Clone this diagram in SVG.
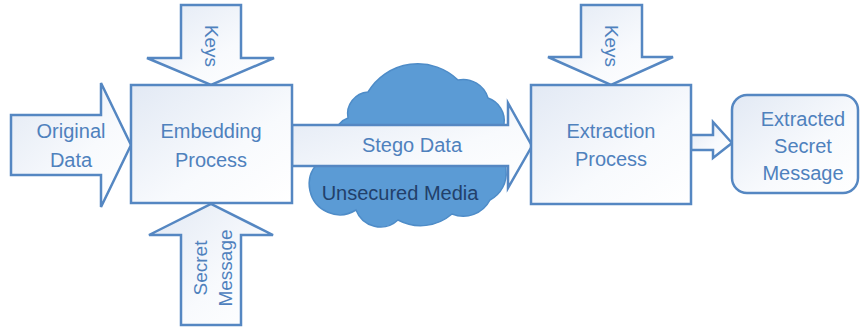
<svg xmlns="http://www.w3.org/2000/svg" width="861" height="329" viewBox="0 0 861 329">
<defs>
<linearGradient id="g" x1="0" y1="0" x2="1" y2="1">
<stop offset="0" stop-color="#E2E9F4"/>
<stop offset="0.6" stop-color="#F8FAFD"/>
<stop offset="1" stop-color="#FFFFFF"/>
</linearGradient>
<style>
.shape{fill:url(#g);stroke:#5587C2;stroke-width:2.5;stroke-linejoin:miter}
.t{font-family:"Liberation Sans",Arial,sans-serif;font-size:20px;fill:#4F81BD;text-anchor:middle}
.v{font-size:19px}
.dark{fill:#22406A}
.cloud{fill:#5B9BD5;stroke:#4E8CC8;stroke-width:1.5}
</style>
</defs>
<rect width="861" height="329" fill="#FFFFFF"/>
<g id="cloud">
<path class="cloud" d="M344,154 A20,20 0 0 1 348,118 A22,22 0 0 1 368,92 A58,58 0 0 1 458,80 A26,26 0 0 1 488,98 A24,24 0 0 1 504,124 L506,170 A30,30 0 0 1 490,200 A30,30 0 0 1 452,214 A48,48 0 0 1 398,220 A26,26 0 0 1 356,210 A30.5,30.5 0 1 1 344,154 Z"/>
</g>
<g id="connectors">
<g id="arrow-original-data">
<path class="shape" d="M11,115 L101,115 L101,83 L131,145 L101,207 L101,175 L11,175 Z"/>
<text class="t" x="71" y="138">Original</text>
<text class="t" x="71" y="167">Data</text>
</g>
<g id="arrow-keys-1">
<path class="shape" d="M181,5 L241,5 L241,58 L274,58 L211,85 L147,58 L181,58 Z"/>
<text class="t v" transform="translate(211,46) rotate(90)" x="0" y="6">Keys</text>
</g>
<g id="arrow-secret-message">
<path class="shape" d="M181,325 L241,325 L241,235 L273,235 L211,204 L149,235 L181,235 Z"/>
<text class="t v" transform="translate(211,268) rotate(-90)"><tspan x="0" y="-4">Secret</tspan><tspan x="0" y="21">Message</tspan></text>
</g>
<g id="arrow-stego-data">
<path class="shape" d="M292,125 L508,125 L508,103 L532,146 L508,188 L508,166 L292,166 Z"/>
<text class="t" x="412" y="152">Stego Data</text>
</g>
<g id="arrow-keys-2">
<path class="shape" d="M581,5 L642,5 L642,57 L673,57 L611,85 L548,57 L581,57 Z"/>
<text class="t v" transform="translate(611,46) rotate(90)" x="0" y="6">Keys</text>
</g>
<g id="arrow-output">
<path class="shape" d="M691,135 L713,135 L713,122 L732,143 L713,158 L713,150 L691,150 Z"/>
</g>
</g>
<text class="t dark" x="400" y="200">Unsecured Media</text>
<g id="node-embedding">
<rect class="shape" x="131" y="85" width="161" height="118"/>
<text class="t" x="211" y="138">Embedding</text>
<text class="t" x="211" y="167">Process</text>
</g>
<g id="node-extraction">
<rect class="shape" x="531" y="85" width="160" height="119"/>
<text class="t" x="611" y="138">Extraction</text>
<text class="t" x="611" y="166">Process</text>
</g>
<g id="node-extracted">
<rect class="shape" x="732" y="95" width="126" height="98" rx="15" ry="15"/>
<text class="t" x="803" y="126">Extracted</text>
<text class="t" x="803" y="153">Secret</text>
<text class="t" x="803" y="180">Message</text>
</g>
</svg>
